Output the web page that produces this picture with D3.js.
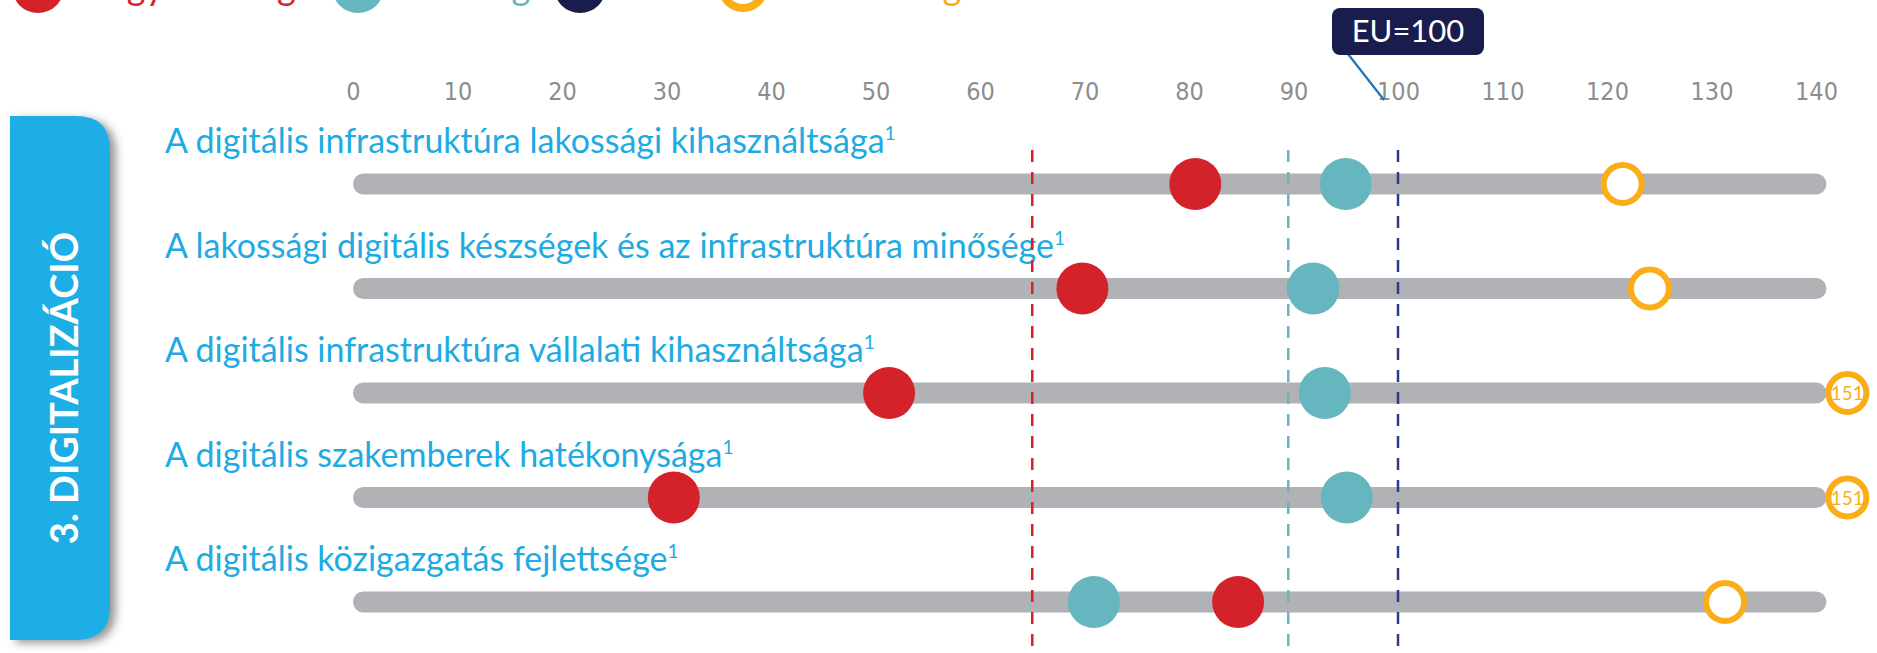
<!DOCTYPE html>
<html>
<head>
<meta charset="utf-8">
<script src="https://cdn.jsdelivr.net/npm/d3@7/dist/d3.min.js"></script>
<style>
  body { margin: 0; background: #fff; overflow: hidden; }
  svg { display: block; }
</style>
</head>
<body>
<div id="chart"></div>
<script>
// indicators (rows), top to bottom
const indicators = [
  'A digitális infrastruktúra lakossági kihasználtsága',
  'A lakossági digitális készségek és az infrastruktúra minősége',
  'A digitális infrastruktúra vállalati kihasználtsága',
  'A digitális szakemberek hatékonysága',
  'A digitális közigazgatás fejlettsége'
];
// EU = 100
const hungary = [80.6, 69.8, 51.3, 30.7, 84.7];
const v4Avg = [95.0, 91.9, 93.0, 95.1, 70.9];
const topAvg = [121.5, 124.1, 151, 151, 131.3];
const refValues = [65.0, 89.5, 100];
const tickValues = [0, 10, 20, 30, 40, 50, 60, 70, 80, 90, 100, 110, 120, 130, 140];
const legendNames = ['Magyarország', 'V4-átlag', 'EU', 'Első 3 átlaga'];
const sectionTitle = '3. DIGITALIZÁCIÓ';

const RED = '#d3222a', TEAL = '#65b6be', NAVY = '#1a1c4d', ORANGE = '#fbad18';
const BLUE_TXT = '#1eaae2', GREY_BAR = '#b1b2b6';
const refColors = [RED, TEAL, '#2e3a8c'];

const width = 1877, height = 653;
const axisMax = 140, barMax = 141, offScale = 143;

const x = d3.scaleLinear().domain([0, axisMax]).range([353, 1816]);
const y = d3.scalePoint().domain(indicators).range([184, 602]);

const svg = d3.select('#chart').append('svg')
  .attr('width', width)
  .attr('height', height)
  .style('font-family', 'Lato, "Open Sans", sans-serif');

const defs = svg.append('defs');
defs.append('filter').attr('id', 'shadow')
  .attr('x', '-20%').attr('y', '-10%').attr('width', '160%').attr('height', '130%')
  .append('feDropShadow')
  .attr('dx', 6).attr('dy', 3).attr('stdDeviation', 4)
  .attr('flood-color', '#444').attr('flood-opacity', 0.55);

// left section tab
const tx0 = 10, tx1 = 110, ty0 = 116, ty1 = 640, tr = 34;
svg.append('path')
  .attr('d', `M${tx0},${ty0} H${tx1 - tr} Q${tx1},${ty0} ${tx1},${ty0 + tr} V${ty1 - tr} Q${tx1},${ty1} ${tx1 - tr},${ty1} H${tx0} Z`)
  .attr('fill', '#1eaee4')
  .attr('filter', 'url(#shadow)');
svg.append('text')
  .attr('transform', `translate(78,${(ty0 + ty1) / 2 + 10}) rotate(-90)`)
  .attr('text-anchor', 'middle')
  .attr('fill', '#fff')
  .attr('font-weight', 700)
  .attr('font-size', 38)
  .text(sectionTitle);

// legend (cut off at the top of the picture)
const legendX = [38, 358, 580, 743];
const legend = svg.append('g').selectAll('g')
  .data(legendNames)
  .join('g')
  .attr('transform', (d, i) => `translate(${legendX[i]},-13)`);
legend.append('circle')
  .attr('r', (d, i) => i === 3 ? 21 : 26)
  .attr('fill', (d, i) => i === 3 ? '#fff' : [RED, TEAL, NAVY][i])
  .attr('stroke', (d, i) => i === 3 ? ORANGE : 'none')
  .attr('stroke-width', 8);
legend.append('text')
  .attr('x', 38)
  .attr('y', 13)
  .attr('font-size', 36)
  .attr('fill', (d, i) => [RED, TEAL, NAVY, ORANGE][i])
  .text(d => d);

// axis labels on top
const axis = svg.append('g')
  .attr('transform', 'translate(0,100)')
  .call(d3.axisTop(x).tickValues(tickValues).tickSize(0).tickPadding(0));
axis.select('.domain').remove();
axis.selectAll('text')
  .attr('fill', '#8d8d8d')
  .attr('font-size', 25)
  .style('font-family', '"Liberation Sans Narrow", "DejaVu Sans Condensed", Lato, sans-serif');

// EU=100 callout
const eu = x(100);
svg.append('line')
  .attr('x1', eu - 50).attr('y1', 54)
  .attr('x2', eu - 14).attr('y2', 100)
  .attr('stroke', '#1c75bc').attr('stroke-width', 2.2);
svg.append('rect')
  .attr('x', eu - 66).attr('y', 8)
  .attr('width', 152).attr('height', 47)
  .attr('rx', 8)
  .attr('fill', NAVY);
svg.append('text')
  .attr('x', eu + 10).attr('y', 42)
  .attr('text-anchor', 'middle')
  .attr('fill', '#fff')
  .attr('font-size', 31)
  .text('EU=100');

// rows
const rows = svg.append('g').selectAll('g')
  .data(indicators)
  .join('g')
  .attr('transform', d => `translate(0,${y(d)})`);

rows.append('rect')
  .attr('x', x(0))
  .attr('y', -10.5)
  .attr('width', x(barMax) - x(0))
  .attr('height', 21)
  .attr('rx', 10.5)
  .attr('fill', GREY_BAR);

const label = rows.append('text')
  .attr('x', 165)
  .attr('y', -31)
  .attr('font-size', 34)
  .attr('fill', BLUE_TXT);
label.append('tspan').text(d => d);
label.append('tspan')
  .attr('font-size', 19)
  .attr('dy', -13)
  .text('1');

// dashed reference lines
svg.append('g').selectAll('line')
  .data(refValues)
  .join('line')
  .attr('x1', d => x(d)).attr('x2', d => x(d))
  .attr('y1', 150).attr('y2', height)
  .attr('stroke', (d, i) => refColors[i])
  .attr('stroke-width', 2.5)
  .attr('stroke-dasharray', '12,10');

// markers
rows.append('circle')
  .attr('cx', (d, i) => x(Math.min(topAvg[i], offScale)))
  .attr('r', 19)
  .attr('fill', '#fff')
  .attr('stroke', ORANGE)
  .attr('stroke-width', 6);
rows.filter((d, i) => topAvg[i] > axisMax)
  .append('text')
  .attr('x', x(offScale))
  .attr('y', 7)
  .attr('text-anchor', 'middle')
  .attr('font-size', 19)
  .attr('fill', ORANGE)
  .text(d => topAvg[indicators.indexOf(d)]);

rows.append('circle')
  .attr('cx', (d, i) => x(v4Avg[i]))
  .attr('r', 26)
  .attr('fill', TEAL);
rows.append('circle')
  .attr('cx', (d, i) => x(hungary[i]))
  .attr('r', 26)
  .attr('fill', RED);
</script>
</body>
</html>
